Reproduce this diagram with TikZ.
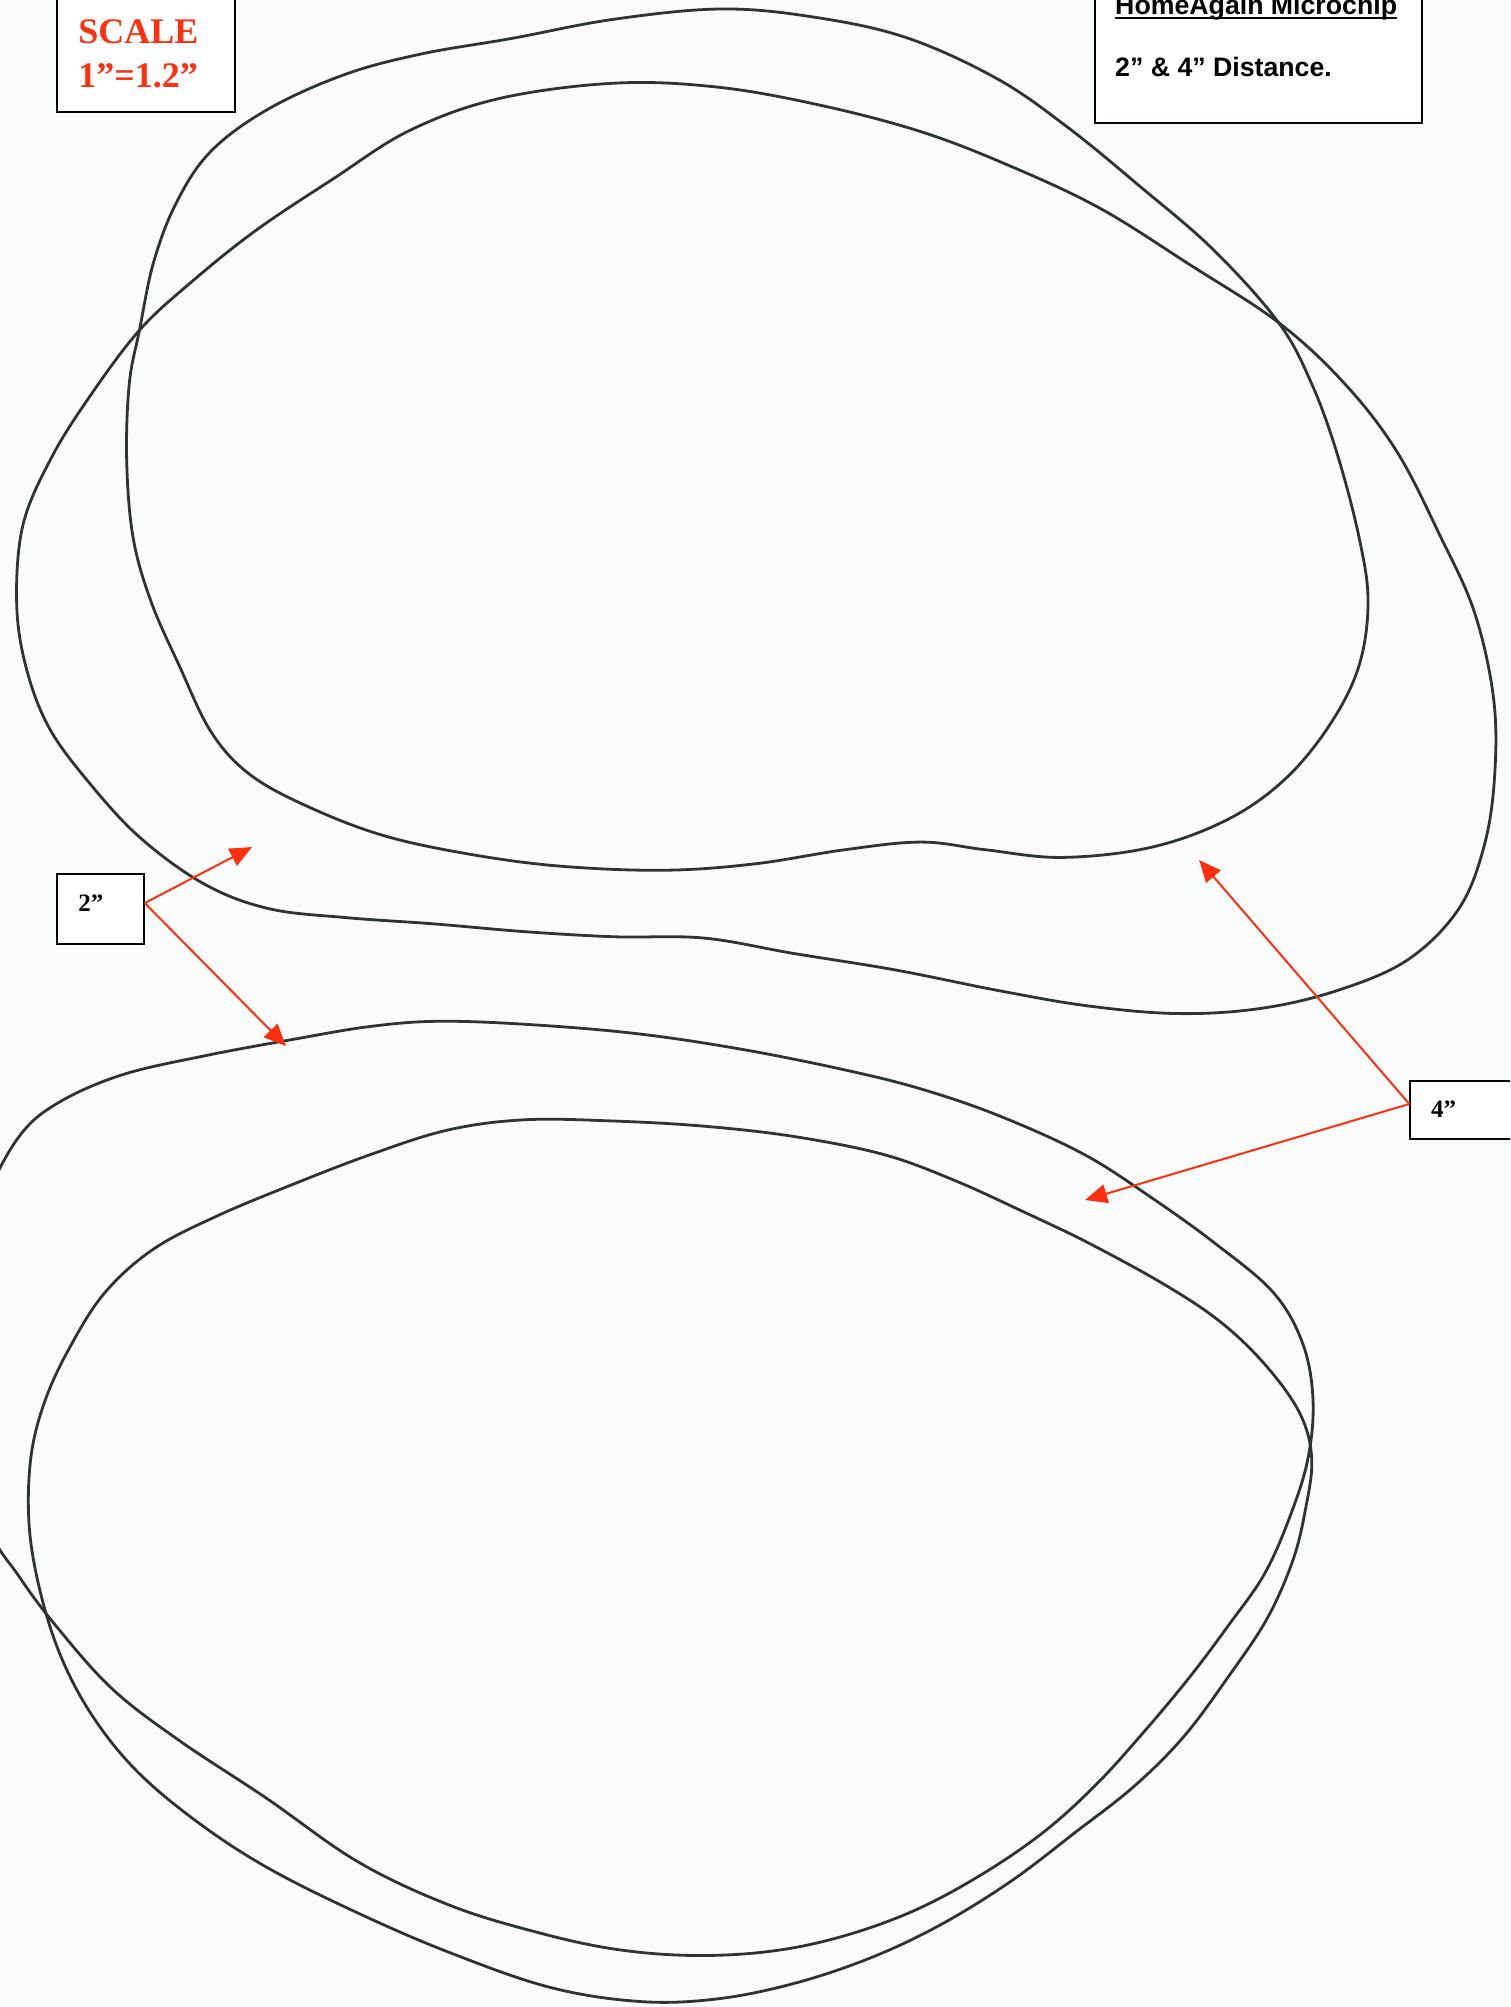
\documentclass[tikz,border=0pt]{standalone}
\usepackage{fontspec}
\setmainfont{Liberation Serif}
\setsansfont{Liberation Sans}
\usetikzlibrary{arrows.meta}
\definecolor{redmark}{HTML}{FF3010}
\definecolor{ink}{HTML}{2E3434}
\definecolor{paper}{HTML}{FAFBFB}
\begin{document}
\begin{tikzpicture}[x=1.2797pt,y=-1.2797pt,
  sketch/.style={draw=ink, line width=2.8pt, line cap=round, line join=round},
  labelbox/.style={draw=black, line width=1.6pt, fill=white, inner sep=0pt, rectangle},
  redarrow/.style={draw=redmark, line width=2pt, -{Triangle[length=22pt,width=19pt]}},
  redtext/.style={anchor=base west, inner sep=0pt, text=redmark, font=\bfseries\fontsize{36}{44}\selectfont},
  boxtext/.style={anchor=base west, inner sep=0pt, font=\bfseries\fontsize{25}{30}\selectfont},
  titletext/.style={anchor=base west, inner sep=0pt, font=\sffamily\bfseries\fontsize{26.7}{32}\selectfont}]
\useasboundingbox (0,0) rectangle (1180,1568.3);
\clip (0,0) rectangle (1180,1568.3);
\fill[paper] (0,0) rectangle (1180,1568.3);

% upper shape 1
\draw[sketch] plot[smooth cycle, tension=0.6] coordinates {
 (565,7) (640,14) (710,30) (780,62) (835,100) (890,145) (948,195) (999,252)
 (1025,300) (1045,355) (1062,420) (1069,470) (1062,520) (1040,565) (1005,608)
 (960,640) (900,662) (830,670) (770,664) (720,658) (660,664) (590,675)
 (520,680) (440,677) (370,668) (300,653) (240,630) (195,605) (165,572)
 (140,520) (118,470) (104,420) (99,360) (101,300) (109,258) (120,205)
 (138,158) (165,118) (210,85) (270,58) (330,42) (400,30) (480,15)};

% upper shape 2
\draw[sketch] plot[smooth cycle, tension=0.6] coordinates {
 (480,65) (560,68) (640,82) (720,103) (790,130) (860,163) (930,207) (999,252)
 (1050,299) (1091,352) (1125,418) (1152,478) (1167,545) (1168,605) (1160,660)
 (1140,710) (1100,750) (1045,774) (985,788) (920,792) (850,786) (780,774)
 (700,758) (620,745) (550,733) (480,732) (410,728) (340,722) (270,717)
 (210,710) (160,691) (110,655) (70,612) (38,568) (20,520) (13,470) (18,410)
 (40,358) (70,310) (109,258) (150,220) (200,180) (260,140) (320,102) (390,77)};

% lower shape 3 (outer at top, inner at bottom, leaves the page at left)
\draw[sketch] plot[smooth cycle, tension=0.6] coordinates {
 (345,798) (420,801) (500,808) (580,820) (660,836) (720,851) (781,872)
 (847,902) (900,936) (950,972) (995,1010) (1018,1050) (1026,1094) (1022,1140)
 (1008,1185) (988,1230) (960,1270) (930,1310) (895,1352) (857,1394)
 (815,1432) (765,1466) (712,1494) (655,1514) (600,1525) (540,1528)
 (480,1523) (420,1510) (352,1489) (280,1455) (208,1405) (140,1360)
 (88,1320) (45,1272) (15,1232) (-10,1190) (-30,1100) (-30,1000) (-10,935)
 (15,888) (45,862) (95,840) (160,825) (230,812) (290,802)};

% lower shape 4 (inner at top, outer at bottom)
\draw[sketch] plot[smooth cycle, tension=0.6] coordinates {
 (410,875) (480,876) (550,880) (620,888) (690,902) (745,922) (800,947)
 (852,972) (912,1005) (955,1034) (990,1068) (1016,1105) (1025,1140)
 (1020,1180) (1010,1220) (990,1265) (960,1310) (925,1357) (886,1396)
 (840,1432) (790,1470) (735,1504) (680,1530) (620,1550) (560,1562)
 (500,1564) (430,1553) (352,1526) (280,1495) (210,1460) (156,1425)
 (109,1386) (75,1345) (50,1300) (33,1250) (23,1195) (24,1140) (35,1095)
 (55,1052) (82,1010) (120,976) (170,950) (230,925) (290,902) (350,883)};

% label boxes
\node[labelbox, minimum width=178pt, minimum height=117pt] (scalebox) at (114.05,41.75) {};
\node[labelbox, minimum width=327pt, minimum height=128pt] (titlebox) at (983.45,46.05) {};
\node[labelbox, minimum width=87pt, minimum height=70pt] (b2) at (78.5,710.35) {};
\node[labelbox, minimum width=105pt, minimum height=58pt] (b4) at (1142.9,867.35) {};

% texts
\node[redtext] (scale1) at (61,33.6) {SCALE};
\node[redtext] (scale2) at (61,68) {1”=1.2”};
\node[titletext] (title) at (871.3,11.7) {HomeAgain Microchip};
\draw[line width=2pt] ([yshift=-3pt]title.base west) -- ([yshift=-3pt]title.base east);
\node[titletext] (dist) at (871.3,59.4) {2” \& 4” Distance.};
\node[boxtext] (t2) at (61,711.9) {2”};
\node[boxtext] (t4) at (1118.2,872.9) {4”};

% arrow ends
\coordinate (o2) at ([yshift=6pt]b2.east);
\coordinate (o4) at ([yshift=6pt]b4.west);
\coordinate (tipA) at (196.9,661.9);
\coordinate (tipB) at (223.5,817.4);
\coordinate (tipC) at (937,672);
\coordinate (tipD) at (847.9,937.7);

\draw[redarrow] (o2) -- (tipA);
\draw[redarrow] (o2) -- (tipB);
\draw[redarrow] (o4) -- (tipC);
\draw[redarrow] (o4) -- (tipD);
\end{tikzpicture}
\end{document}
